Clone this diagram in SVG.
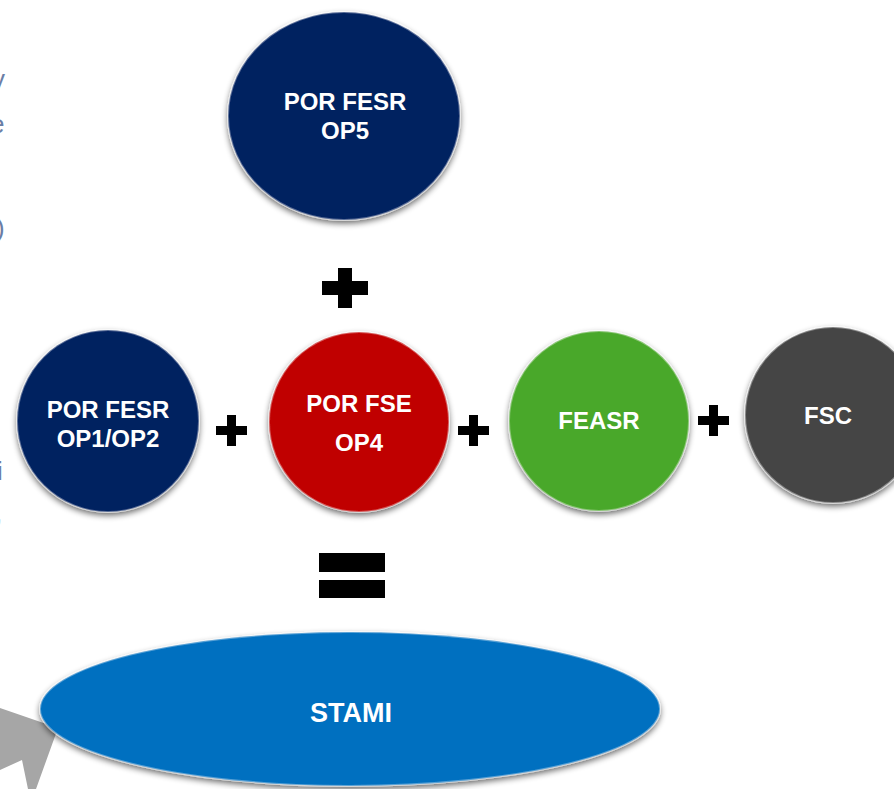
<svg xmlns="http://www.w3.org/2000/svg" width="894" height="789" viewBox="0 0 894 789">
<defs>
<style>
.lbl{font-family:"Liberation Sans","DejaVu Sans",Arial,sans-serif;font-weight:bold;font-size:24px;fill:#ffffff;text-anchor:middle}
.frag{font-family:"Liberation Sans",Arial,sans-serif;font-size:26px;fill:#6a7ea6}
.node{stroke:#ffffff;stroke-opacity:0.35;stroke-width:2}
</style>
<filter id="sh" x="-20%" y="-20%" width="140%" height="140%">
<feGaussianBlur in="SourceAlpha" stdDeviation="3"/>
<feOffset dx="0" dy="3" result="b"/>
<feComponentTransfer><feFuncA type="linear" slope="0.6"/></feComponentTransfer>
<feMerge><feMergeNode/><feMergeNode in="SourceGraphic"/></feMerge>
</filter>
</defs>
<rect width="894" height="789" fill="#ffffff"/>
<g id="fragments">
<text class="frag" x="-8" y="88">y</text>
<text class="frag" x="-10" y="133">e</text>
<text class="frag" x="-4" y="237">)</text>
<text class="frag" x="-3" y="480">i</text>
<text class="frag" x="-5" y="522">,</text>
</g>
<g id="arrow">
<polygon points="0,708 58,728 36,789 28,789 22,760 0,770" fill="#a6a6a6"/>
</g>
<g id="op5">
<ellipse class="node" cx="344" cy="116" rx="116" ry="104" fill="#002060" filter="url(#sh)"/>
<text class="lbl" x="345" y="110">POR FESR</text>
<text class="lbl" x="345" y="139">OP5</text>
</g>
<g id="op1op2">
<circle class="node" cx="108" cy="421" r="91" fill="#002060" filter="url(#sh)"/>
<text class="lbl" x="108" y="418">POR FESR</text>
<text class="lbl" x="108" y="447">OP1/OP2</text>
</g>
<g id="op4">
<circle class="node" cx="359" cy="422" r="90" fill="#c00000" filter="url(#sh)"/>
<text class="lbl" x="359" y="412">POR FSE</text>
<text class="lbl" x="359" y="451">OP4</text>
</g>
<g id="feasr">
<circle class="node" cx="599" cy="421" r="90" fill="#4aa82a" filter="url(#sh)"/>
<text class="lbl" x="599" y="429">FEASR</text>
</g>
<g id="fsc">
<circle class="node" cx="833" cy="415" r="88" fill="#454545" filter="url(#sh)"/>
<text class="lbl" x="828" y="424">FSC</text>
</g>
<g id="stami">
<ellipse class="node" cx="350" cy="709" rx="310" ry="77" fill="#0070c0" filter="url(#sh)"/>
<text class="lbl" x="351" y="722" style="font-size:27px">STAMI</text>
</g>
<g id="connectors" fill="#000000">
<path d="M338,268h14v13h16v14h-16v13h-14v-13h-16v-14h16z"/>
<path d="M227,415h9v11h11v9h-11v11h-9v-11h-11v-9h11z"/>
<path d="M469,415h9v11h11v9h-11v11h-9v-11h-11v-9h11z"/>
<path d="M709,405h9v11h11v9h-11v11h-9v-11h-11v-9h11z"/>
<rect x="319" y="553" width="66" height="19"/>
<rect x="319" y="580" width="66" height="18"/>
</g>
</svg>
